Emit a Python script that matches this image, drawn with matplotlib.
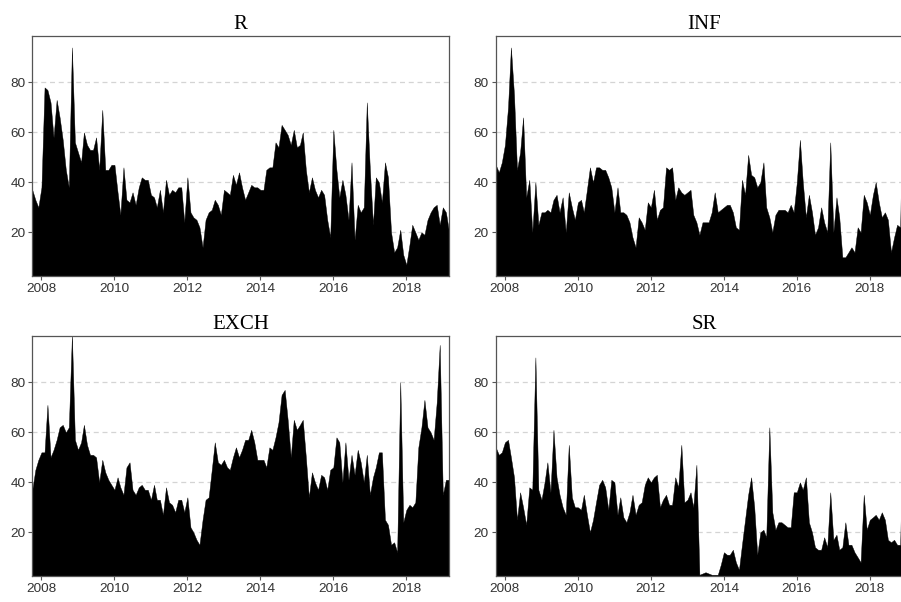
import pandas as pd
import matplotlib
matplotlib.use("Agg")
import matplotlib.pyplot as plt
import matplotlib.dates as mdates

# monthly observations, Oct 2007 - Mar 2019
dates = pd.date_range("2007-10-01", periods=138, freq="MS")

r_vals = [37, 33, 30, 38, 78, 77, 72, 58, 73, 66, 57, 45, 38, 94, 56, 52, 48, 60, 55, 53,
          53, 58, 45, 69, 45, 45, 47, 47, 36, 27, 46, 33, 32, 36, 31, 38, 42, 41, 41, 35,
          34, 30, 37, 28, 41, 35, 37, 36, 38, 38, 24, 42, 28, 26, 25, 22, 14, 25, 28, 29,
          33, 31, 27, 37, 36, 35, 43, 39, 44, 38, 33, 36, 39, 38, 38, 37, 37, 45, 46, 46,
          56, 54, 63, 61, 59, 55, 61, 54, 55, 60, 45, 36, 42, 37, 34, 37, 35, 25, 18, 61,
          45, 34, 41, 35, 25, 48, 17, 31, 28, 30, 72, 45, 23, 42, 40, 32, 48, 42, 20, 12,
          14, 21, 11, 7, 15, 23, 20, 17, 20, 19, 25, 28, 30, 31, 23, 30, 28, 21]

inf_vals = [47, 44, 48, 55, 70, 94, 75, 45, 52, 66, 34, 41, 20, 40, 23, 28, 28, 29, 28, 33,
            35, 28, 34, 20, 36, 30, 25, 32, 33, 28, 37, 46, 40, 46, 46, 45, 45, 42, 38, 28,
            38, 28, 28, 27, 24, 18, 14, 26, 24, 21, 32, 30, 37, 25, 29, 30, 46, 45, 46, 33,
            38, 36, 35, 36, 37, 27, 24, 19, 24, 24, 24, 28, 36, 28, 29, 30, 31, 31, 28, 22,
            21, 41, 35, 51, 43, 42, 38, 40, 48, 30, 26, 20, 27, 29, 29, 29, 28, 31, 28, 40,
            57, 40, 26, 35, 28, 19, 22, 30, 24, 20, 56, 20, 34, 26, 10, 10, 12, 14, 12, 22,
            20, 35, 32, 27, 35, 40, 32, 26, 28, 25, 12, 18, 23, 22, 90, 62, 50, 40]

exch_vals = [37, 45, 49, 52, 52, 71, 50, 53, 57, 62, 63, 60, 62, 99, 57, 53, 56, 63, 55, 51,
             51, 50, 40, 49, 44, 41, 39, 37, 42, 38, 35, 46, 48, 37, 35, 38, 39, 37, 37, 33,
             39, 33, 33, 27, 38, 32, 31, 28, 33, 33, 28, 34, 22, 20, 17, 15, 25, 33, 34, 45,
             56, 48, 47, 49, 46, 45, 50, 54, 50, 53, 57, 57, 61, 56, 49, 49, 49, 46, 54, 53,
             58, 64, 75, 77, 65, 50, 65, 61, 63, 65, 50, 34, 44, 40, 37, 43, 42, 37, 45, 46,
             58, 56, 40, 56, 41, 51, 43, 53, 48, 40, 51, 35, 42, 46, 52, 52, 25, 23, 15, 16,
             12, 80, 24, 29, 31, 30, 32, 54, 62, 73, 62, 60, 57, 72, 95, 35, 41, 41]

sr_vals = [54, 51, 52, 56, 57, 50, 42, 25, 36, 30, 23, 38, 37, 90, 37, 33, 40, 48, 36, 61,
           42, 35, 30, 27, 55, 34, 30, 30, 29, 35, 27, 20, 25, 32, 39, 41, 38, 29, 41, 40,
           27, 34, 26, 24, 28, 35, 27, 31, 32, 39, 42, 40, 42, 43, 30, 33, 35, 31, 31, 42,
           38, 55, 32, 33, 36, 30, 47, 3, 3.5, 4, 3.5, 3, 3, 3, 7, 12, 11, 11, 13, 8,
           5, 15, 25, 35, 42, 30, 11, 20, 21, 18, 62, 28, 21, 24, 24, 23, 22, 22, 36, 36,
           40, 37, 42, 24, 20, 14, 13, 13, 18, 14, 36, 17, 19, 13, 14, 24, 15, 15, 12, 10,
           8, 35, 21, 25, 26, 27, 25, 28, 25, 17, 16, 17, 15, 15, 70, 95, 60, 50]

titles = ["R", "INF", "EXCH", "SR"]
series = [r_vals, inf_vals, exch_vals, sr_vals]

# axes boxes in figure fractions; right column runs past the figure edge
boxes = [[0.0358, 0.5415, 0.4622, 0.3992],
         [0.5502, 0.5415, 0.4622, 0.3992],
         [0.0358, 0.0432, 0.4622, 0.3992],
         [0.5502, 0.0432, 0.4622, 0.3992]]

fig = plt.figure(figsize=(9.01, 6.02), dpi=100)

for box, title, vals in zip(boxes, titles, series):
    ax = fig.add_axes(box)
    ax.fill_between(dates, 0, vals, color="black", linewidth=0.3, zorder=2)
    ax.set_xlim(dates[0], dates[-1])
    ax.set_ylim(2.5, 98.7)
    ax.set_yticks([20, 40, 60, 80])
    ax.xaxis.set_major_locator(mdates.YearLocator(2))
    ax.xaxis.set_major_formatter(mdates.DateFormatter("%Y"))
    ax.grid(axis="y", color="#d4d4d4", linestyle=(0, (4, 3)), linewidth=0.9, zorder=0)
    ax.set_axisbelow(True)
    for s in ax.spines.values():
        s.set_color("#555555")
        s.set_linewidth(0.9)
    ax.tick_params(length=3, width=0.8, color="#555555", labelcolor="#333333",
                   labelsize=9.7, pad=2)
    for lab in ax.get_xticklabels() + ax.get_yticklabels():
        lab.set_family("Liberation Sans")
    ax.set_title(title, family="Liberation Serif", fontsize=15, pad=5)

fig.savefig("out.png", dpi=100)
